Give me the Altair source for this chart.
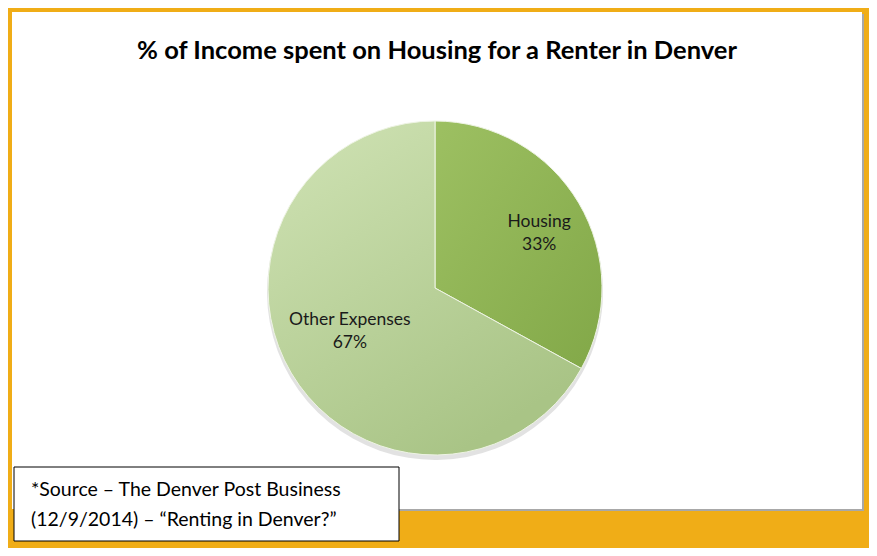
import math
import altair as alt
import pandas as pd

categories = ["Housing", "Other Expenses"]
values = [33, 67]
title_text = "% of Income spent on Housing for a Renter in Denver"
source_lines = ["*Source \u2013 The Denver Post Business", "(12/9/2014) \u2013 \u201cRenting in Denver?\u201d"]

df = pd.DataFrame({"category": categories, "value": values})

W, H = 861, 540
CX, CY, R = 427, 280, 167
FONT = "Lato"

g_housing = alt.LinearGradient(
    gradient="linear", x1=0, y1=0, x2=1, y2=1,
    stops=[alt.GradientStop(color="#9dc062", offset=0), alt.GradientStop(color="#82a848", offset=1)])
g_other = alt.LinearGradient(
    gradient="linear", x1=0, y1=0, x2=0.6, y2=1,
    stops=[alt.GradientStop(color="#d0e3b5", offset=0), alt.GradientStop(color="#a9c486", offset=1)])

one = pd.DataFrame({"k": [0]})

shadow_panel = alt.Chart(one).mark_rect(color="#a8a8a8").encode(
    x=alt.value(6), x2=alt.value(856), y=alt.value(6), y2=alt.value(503))
panel = alt.Chart(one).mark_rect(color="white").encode(
    x=alt.value(4), x2=alt.value(854), y=alt.value(4), y2=alt.value(501))

title = alt.Chart(pd.DataFrame({"t": [title_text]})).mark_text(
    font=FONT, fontSize=25.5, fontWeight="bold", color="black", align="center", baseline="middle"
).encode(x=alt.value(429), y=alt.value(43), text="t:N")

pie_shadow = alt.Chart(df).mark_arc(outerRadius=R + 1, color="#8a8a8a", opacity=0.25).encode(
    theta=alt.Theta("value:Q"), x=alt.value(CX), y=alt.value(CY + 4))

pie = alt.Chart(df).mark_arc(outerRadius=R, stroke="#eef4e4", strokeWidth=1).encode(
    theta=alt.Theta("value:Q"),
    fill=alt.condition(alt.datum.category == "Housing", alt.value(g_housing), alt.value(g_other)),
    x=alt.value(CX), y=alt.value(CY))

lab_base = alt.Chart(df).transform_window(
    cum="sum(value)", frame=[None, 0]
).transform_calculate(
    mid="datum.cum - datum.value / 2",
    label="[datum.category, datum.value + '%']")

theta_mid = alt.Theta("mid:Q", stack=None, scale=alt.Scale(domain=[0, 100], range=[0, 2 * math.pi]))

lab_h = lab_base.transform_filter(alt.datum.category == "Housing").mark_text(
    radius=121, dy=-4, font=FONT, fontSize=17.5, color="#1a1a1a", lineHeight=23, align="center", baseline="middle"
).encode(theta=theta_mid, text="label:N", x=alt.value(CX), y=alt.value(CY))

lab_o = lab_base.transform_filter(alt.datum.category == "Other Expenses").mark_text(
    radius=99, dy=-18, font=FONT, fontSize=17.5, color="#1a1a1a", lineHeight=23, align="center", baseline="middle"
).encode(theta=theta_mid, text="label:N", x=alt.value(CX), y=alt.value(CY))

src_box = alt.Chart(one).mark_rect(fill="white", stroke="black", strokeWidth=1).encode(
    x=alt.value(6), x2=alt.value(391), y=alt.value(459), y2=alt.value(533))

src_df = pd.DataFrame({"line": source_lines, "i": [0, 1]})
src_text = alt.Chart(src_df).mark_text(
    font=FONT, fontSize=19.5, color="black", align="left", baseline="middle"
).encode(
    x=alt.value(23),
    y=alt.Y("i:Q", axis=None, scale=alt.Scale(domain=[0, 1], range=[482, 512])),
    text="line:N")

chart = alt.layer(shadow_panel, panel, title, pie_shadow, pie, lab_h, lab_o, src_box, src_text).properties(
    width=W, height=H, background="#f0ad17", padding=0,
    autosize=alt.AutoSizeParams(type="none")
).configure_view(stroke=None)

chart.save("out.html", embed_options={"renderer": "svg", "actions": False})
